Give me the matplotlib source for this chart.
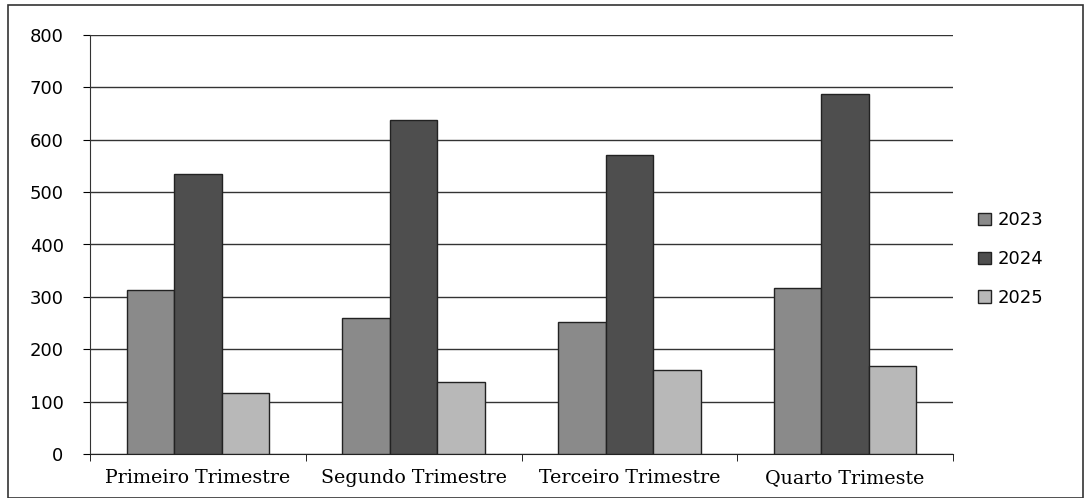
import numpy as np
import matplotlib.pyplot as plt
from matplotlib.patches import Rectangle

categorias = ["Primeiro Trimestre", "Segundo Trimestre", "Terceiro Trimestre", "Quarto Trimeste"]
anos = ["2023", "2024", "2025"]
v2023 = [313, 260, 252, 317]
v2024 = [535, 638, 570, 688]
v2025 = [117, 137, 160, 168]
cores = ["#8a8a8a", "#4e4e4e", "#b8b8b8"]

fig = plt.figure(figsize=(10.84, 4.98), dpi=100)
fig.patch.set_facecolor("white")
ax = fig.add_axes([90 / 1084, 44 / 498, 863 / 1084, 419 / 498])

x = np.arange(len(categorias))
w = 0.22
series = [v2023, v2024, v2025]
for i, (vals, ano, cor) in enumerate(zip(series, anos, cores)):
    ax.bar(x + (i - 1) * w, vals, w, color=cor, edgecolor="#222222",
           linewidth=1.0, label=ano, zorder=3)

ax.set_xlim(-0.5, len(categorias) - 0.5)
ax.set_ylim(0, 800)
ax.set_yticks(range(0, 801, 100))
ax.yaxis.grid(True, color="#333333", linewidth=1.0, zorder=0)
ax.set_xticks(x)
ax.set_xticklabels(categorias, fontsize=13.7, family="DejaVu Serif")
ax.set_xticks(np.arange(-0.5, len(categorias), 1), minor=True)
ax.tick_params(axis="x", which="major", length=0, pad=11)
ax.tick_params(axis="x", which="minor", length=5, direction="out")
ax.tick_params(axis="y", length=5, direction="out", labelsize=13, pad=14)
for sp in ["top", "right"]:
    ax.spines[sp].set_visible(False)
ax.spines["left"].set_color("#333333")
ax.spines["bottom"].set_color("#222222")

leg = ax.legend(loc="center left", bbox_to_anchor=(1.01, 0.465), frameon=False,
                fontsize=13, handlelength=0.7, handleheight=0.7,
                handletextpad=0.4, labelspacing=1.15)

fig.add_artist(Rectangle((8 / 1084, 0.0), 1 - 8 / 1084 - 0.001, 1 - 5 / 498,
                         transform=fig.transFigure, fill=False,
                         edgecolor="#333333", linewidth=1.2))

plt.savefig("out.png", dpi=100, facecolor="white")
